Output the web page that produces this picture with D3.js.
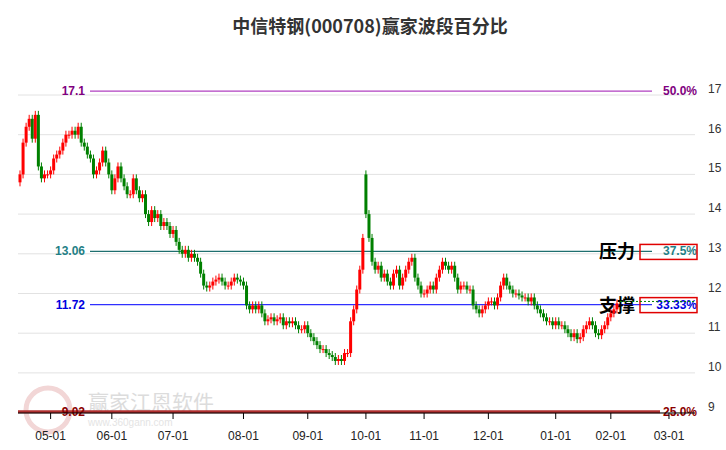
<!DOCTYPE html>
<html><head><meta charset="utf-8">
<script src="https://cdn.jsdelivr.net/npm/d3@7"></script>
<style>body{margin:0;background:#fff;font-family:"Noto Sans CJK SC","Noto Sans",sans-serif}</style>
</head><body><svg id="c" width="726" height="450"></svg>
<script>
const title = "中信特钢(000708)赢家波段百分比";
const monthLabels = ["05-01","06-01","07-01","08-01","09-01","10-01","11-01","12-01","01-01","02-01","03-01"];
const monthStartIdx = [10,30,50,73,94,113,132,153,175,193,212];
const closes = [
15.0,15.8,16.2,16.4,15.9,16.5,15.2,14.9,15.0,15.0,
15.1,15.4,15.5,15.6,15.8,16.0,16.0,16.1,16.0,16.2,15.8,15.7,15.5,15.4,15.0,15.1,15.3,15.6,15.3,15.0,
14.6,14.9,15.2,14.9,14.7,14.5,14.5,14.9,14.6,14.4,14.5,14.0,13.8,14.1,13.9,14.0,13.7,13.8,13.7,13.5,
13.6,13.3,13.1,13.0,13.1,12.9,13.0,12.9,12.8,12.5,12.2,12.15,12.2,12.3,12.35,12.4,12.3,12.2,12.2,12.3,12.4,12.35,12.3,
12.2,11.7,11.6,11.7,11.6,11.7,11.5,11.3,11.35,11.4,11.3,11.35,11.4,11.2,11.3,11.25,11.3,11.2,11.1,11.1,11.2,
11.0,10.9,10.8,10.7,10.6,10.6,10.5,10.45,10.4,10.3,10.35,10.3,10.5,10.5,11.3,11.6,12.1,12.6,13.4,
14.0,13.4,12.8,12.6,12.7,12.4,12.5,12.3,12.2,12.5,12.6,12.2,12.4,12.6,12.8,12.9,12.4,12.2,12.0,
12.0,12.1,12.2,12.1,12.4,12.6,12.8,12.7,12.6,12.7,12.4,12.1,12.2,12.2,12.1,12.1,11.7,11.6,11.5,11.6,11.7,
11.8,11.8,11.7,11.9,12.2,12.4,12.2,12.1,12.0,12.0,11.95,11.9,11.9,11.8,11.9,11.7,11.6,11.5,11.4,11.3,11.3,11.2,
11.3,11.2,11.2,11.1,11.0,10.9,11.0,10.85,10.9,11.1,11.2,11.3,11.2,11.0,10.95,11.1,11.2,11.4,
11.5,11.6,11.75];
const openOverrides = {113: 15.0, 0: 14.8};
const yTicks = [9,10,11,12,13,14,15,16,17];
const levels = [
 {v:17.1, label:"17.1", pct:"50.0%", color:"#800080", line:"#b040c0"},
 {v:13.06, label:"13.06", pct:"37.5%", color:"#1f7f86", line:"#1f6f6f", tag:"压力"},
 {v:11.72, label:"11.72", pct:"33.33%", color:"#0000e0", line:"#3030ff", tag:"支撑"},
 {v:9.02, label:"9.02", pct:"25.0%", color:"#8b0000", line:"#b03030"}
];

const svg = d3.select("#c");
const x = d3.scaleLinear().domain([0,196]).range([20,620]);
const y = d3.scaleLinear().domain([9,17]).range([412.6,95]);

svg.append("text").attr("x",370).attr("y",33).attr("text-anchor","middle")
 .attr("font-size",18).attr("font-weight","bold").attr("fill","#333").text(title);

svg.append("g").selectAll("line").data(yTicks).join("line")
 .attr("x1",18).attr("x2",695).attr("y1",d=>y(d)).attr("y2",d=>y(d))
 .attr("stroke","#e2e2e2").attr("stroke-width",1);
svg.append("g").selectAll("text").data(yTicks).join("text")
 .attr("x",708).attr("y",d=>y(d)-2).attr("text-anchor","start")
 .attr("font-size",12).attr("fill","#333").attr("font-family","Liberation Sans, Arial").text(d=>d);

svg.append("circle").attr("cx",48).attr("cy",410).attr("r",22).attr("fill","none").attr("stroke","#f2d6d6").attr("stroke-width",5);
svg.append("text").attr("x",88).attr("y",410).attr("font-size",21).attr("fill","#dcdcdc").text("赢家江恩软件");
svg.append("text").attr("x",88).attr("y",426).attr("font-size",10).attr("fill","#e4e4e4").attr("font-family","Liberation Sans").text("www.360gann.com");

levels.forEach(l=>{
  const yy = y(l.v);
  const isBottom = l.v < 9.5;
  svg.append("line").attr("x1",isBottom?18:90).attr("x2",isBottom?660:652).attr("y1",yy).attr("y2",yy)
   .attr("stroke",l.line).attr("stroke-width",isBottom?3:1.2);
  svg.append("text").attr("x",85).attr("y",yy+4).attr("text-anchor","end")
   .attr("font-size",12).attr("font-weight","bold").attr("fill",l.color).attr("font-family","Liberation Sans, Arial").text(l.label);
  svg.append("text").attr("x",697).attr("y",yy+4).attr("text-anchor","end")
   .attr("font-size",12).attr("font-weight","bold").attr("fill",l.color).attr("font-family","Liberation Sans, Arial").text(l.pct);
  if(l.tag){
    svg.append("rect").attr("x",640).attr("y",yy-7).attr("width",57).attr("height",15)
     .attr("fill","none").attr("stroke","#e00000").attr("stroke-width",1.5);
    svg.append("text").attr("x",617).attr("y",yy+7).attr("text-anchor","middle")
     .attr("font-size",18).attr("font-weight","bold").attr("fill","#000").text(l.tag);
  }
});

svg.append("line").attr("x1",18).attr("x2",695).attr("y1",413).attr("y2",413).attr("stroke","#000");
const xt = svg.append("g");
monthStartIdx.forEach((i,k)=>{
  xt.append("line").attr("x1",x(i)).attr("x2",x(i)).attr("y1",413).attr("y2",419).attr("stroke","#000");
  xt.append("text").attr("x",x(i)).attr("y",440).attr("text-anchor","middle").attr("font-size",12)
   .attr("fill","#222").attr("font-family","Liberation Sans, Arial").text(monthLabels[k]);
});

const data = closes.map((c,i)=>{
  const o = openOverrides[i]!==undefined ? openOverrides[i] : (i>0?closes[i-1]:c);
  return {i,o,c};
});
const g = svg.append("g");
data.forEach(d=>{
  const up = d.c >= d.o;
  const col = up ? "#ff0000" : "#008000";
  const top = y(Math.max(d.o,d.c)), bot = y(Math.min(d.o,d.c));
  g.append("line").attr("x1",x(d.i)).attr("x2",x(d.i)).attr("y1",top-4).attr("y2",bot+4).attr("stroke",col).attr("stroke-width",1);
  g.append("rect").attr("x",x(d.i)-1.5).attr("y",top).attr("width",3).attr("height",Math.max(1,bot-top)).attr("fill",col);
});
svg.append("line").attr("x1",x(196)).attr("x2",695).attr("y1",y(11.8)).attr("y2",y(11.8))
 .attr("stroke","#008000").attr("stroke-dasharray","2,2");
</script></body></html>
